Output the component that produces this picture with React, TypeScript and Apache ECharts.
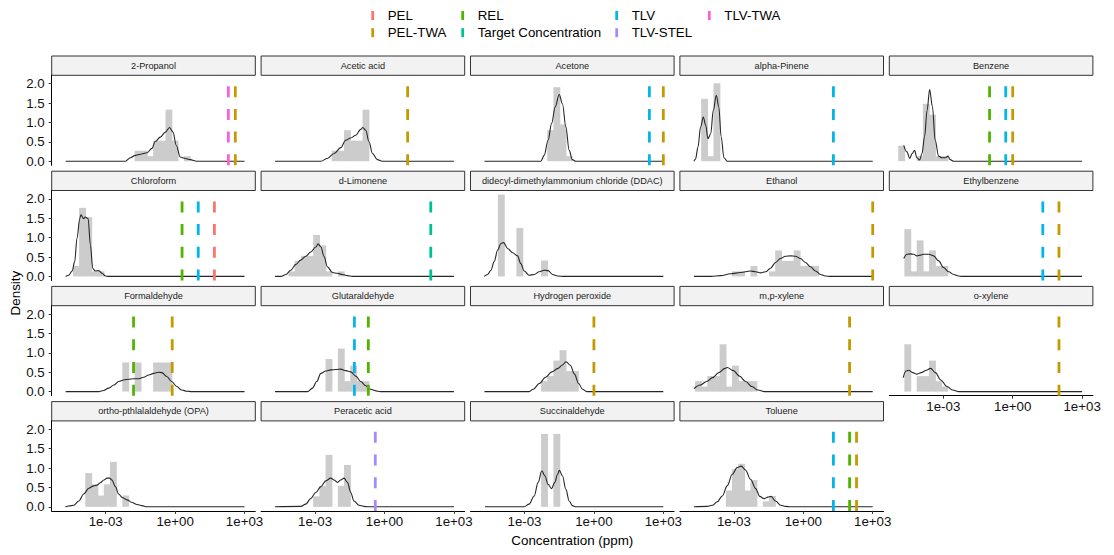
import { useEffect, useRef } from "react";
import * as echarts from "echarts";

// ---------- legend / limit types ----------
const LIMIT_TYPES = ["PEL", "PEL-TWA", "REL", "Target Concentration", "TLV", "TLV-STEL", "TLV-TWA"];
const LIMIT_COLORS = ["#F8766D", "#C49A00", "#53B400", "#00C094", "#00B6EB", "#A58AFF", "#FB61D7"];

// ---------- axes ----------
const X_TICKS = [-3, 0, 3];
const X_TICK_LABELS = ["1e-03", "1e+00", "1e+03"];
const Y_TICKS = [0, 0.5, 1, 1.5, 2];
const X_MIN = -5.333;
const X_MAX = 3.466;
const Y_MIN = -0.1055;
const Y_MAX = 2.2155;

// histogram bins on log10(concentration): left edge of bin k = BIN_START + k * BIN_WIDTH
const BIN_START = -4.933;
const BIN_WIDTH = 0.2666;

// ---------- data: histogram [bin, density], density curve [log10 ppm, density], limits [type, ppm] ----------
const propanolHist = [[12, 0.27], [13, 0.27], [14, 0.13], [15, 0.53], [16, 0.53], [17, 1.33], [18, 0.53], [20, 0.13]];
const propanolDens = [[-4.73, 0], [-2.15, 0], [-1.93, 0.09], [-1.72, 0.15], [-1.5, 0.18], [-1.21, 0.22], [-1.0, 0.33], [-0.86, 0.51], [-0.64, 0.62], [-0.42, 0.75], [-0.24, 0.87], [-0.09, 0.75], [0.05, 0.41], [0.22, 0.11], [0.44, 0.07], [0.65, 0.04], [0.94, 0], [3, 0]];
const propanolLimits = [["TLV-TWA", 200], ["PEL-TWA", 400]];

const aceticHist = [[10, 0.27], [11, 0.27], [12, 0.8], [13, 0.53], [14, 0.53], [15, 1.33]];
const aceticDens = [[-4.73, 0], [-2.75, 0], [-2.47, 0.07], [-2.18, 0.2], [-1.89, 0.35], [-1.68, 0.54], [-1.46, 0.6], [-1.24, 0.67], [-1.03, 0.82], [-0.94, 0.87], [-0.81, 0.8], [-0.67, 0.5], [-0.52, 0.2], [-0.31, 0.04], [-0.09, 0], [3, 0]];
const aceticLimits = [["PEL-TWA", 10]];

const acetoneHist = [[11, 0.8], [12, 1.91], [13, 0.95], [14, 0.13]];
const acetoneDens = [[-4.73, 0], [-2.29, 0], [-2.15, 0.15], [-1.98, 0.54], [-1.83, 0.97], [-1.67, 1.4], [-1.5, 1.72], [-1.36, 1.48], [-1.21, 0.88], [-1.07, 0.28], [-0.93, 0.04], [-0.78, 0], [3, 0]];
const acetoneLimits = [["TLV", 250], ["PEL-TWA", 1000]];

const pineneHist = [[2, 1.61], [3, 0.13], [4, 2.01]];
const pineneDens = [[-4.73, 0], [-4.66, 0.05], [-4.55, 0.37], [-4.44, 0.88], [-4.32, 1.14], [-4.22, 0.93], [-4.12, 0.58], [-4.0, 0.71], [-3.89, 1.31], [-3.76, 1.7], [-3.65, 1.39], [-3.55, 0.63], [-3.43, 0.09], [-3.29, 0], [3, 0]];
const pineneLimits = [["TLV", 20]];

const benzeneHist = [[0, 0.4], [3, 0.13], [4, 1.48], [5, 1.2], [6, 0.13], [7, 0.13]];
const benzeneDens = [[-4.71, 0.41], [-4.57, 0.24], [-4.45, 0.07], [-4.35, 0.2], [-4.24, 0.28], [-4.14, 0.09], [-4.02, 0.03], [-3.92, 0.2], [-3.81, 0.63], [-3.7, 1.31], [-3.59, 1.85], [-3.47, 1.41], [-3.35, 0.54], [-3.2, 0.13], [-3.06, 0.09], [-2.91, 0.09], [-2.8, 0.13], [-2.7, 0.04], [-2.55, 0], [3, 0]];
const benzeneLimits = [["REL", 0.1], ["TLV", 0.5], ["PEL-TWA", 1]];

const chloroformHist = [[2, 0.27], [3, 1.77], [4, 1.53], [5, 0.13], [6, 0.13]];
const chloroformDens = [[-4.73, 0], [-4.59, 0.03], [-4.45, 0.14], [-4.34, 0.38], [-4.24, 0.98], [-4.12, 1.49], [-4.07, 1.59], [-3.95, 1.49], [-3.88, 1.53], [-3.76, 1.49], [-3.66, 0.81], [-3.56, 0.21], [-3.45, 0.14], [-3.3, 0.15], [-3.16, 0.08], [-3.01, 0.01], [-2.87, 0], [3, 0]];
const chloroformLimits = [["REL", 2], ["TLV", 10], ["PEL", 50]];

const limoneneHist = [[3, 0.13], [4, 0.4], [5, 0.53], [6, 0.53], [7, 1.07], [8, 0.8], [9, 0.13], [11, 0.13]];
const limoneneDens = [[-4.73, 0], [-4.48, 0], [-4.26, 0.05], [-4.05, 0.16], [-3.83, 0.31], [-3.62, 0.42], [-3.4, 0.52], [-3.19, 0.63], [-2.97, 0.76], [-2.87, 0.84], [-2.75, 0.76], [-2.61, 0.51], [-2.47, 0.25], [-2.25, 0.1], [-2.04, 0.08], [-1.82, 0.05], [-1.6, 0.02], [-1.39, 0], [3, 0]];
const limoneneLimits = [["Target Concentration", 100]];

const ddacHist = [[3, 2.11], [6, 1.25], [10, 0.41]];
const ddacDens = [[-4.74, 0], [-4.59, 0.05], [-4.45, 0.16], [-4.31, 0.38], [-4.16, 0.68], [-4.02, 0.85], [-3.9, 0.87], [-3.73, 0.72], [-3.51, 0.61], [-3.3, 0.53], [-3.16, 0.33], [-3.01, 0.14], [-2.8, 0.03], [-2.58, 0.05], [-2.36, 0.12], [-2.15, 0.16], [-1.98, 0.15], [-1.79, 0.05], [-1.57, 0.01], [-1.29, 0], [3, 0]];
const ddacLimits: (string | number)[][] = [];

const ethanolHist = [[7, 0.13], [8, 0.13], [10, 0.27], [13, 0.13], [14, 0.67], [15, 0.4], [16, 0.4], [17, 0.67], [18, 0.27], [19, 0.27], [20, 0.27]];
const ethanolDens = [[-4.73, 0], [-4.0, 0], [-3.57, 0.02], [-3.14, 0.07], [-2.71, 0.1], [-2.28, 0.14], [-2.06, 0.12], [-1.85, 0.09], [-1.63, 0.12], [-1.42, 0.21], [-1.2, 0.36], [-0.99, 0.46], [-0.77, 0.52], [-0.55, 0.53], [-0.34, 0.52], [-0.12, 0.46], [0.09, 0.36], [0.31, 0.25], [0.53, 0.14], [0.74, 0.05], [0.96, 0.01], [1.17, 0], [3, 0]];
const ethanolLimits = [["PEL-TWA", 1000]];

const ethylbenzeneHist = [[1, 1.22], [2, 0.13], [3, 0.93], [4, 0.13], [5, 0.67], [6, 0.27], [7, 0.27]];
const ethylbenzeneDens = [[-4.71, 0.46], [-4.57, 0.57], [-4.42, 0.58], [-4.28, 0.57], [-4.14, 0.53], [-3.99, 0.55], [-3.85, 0.57], [-3.63, 0.57], [-3.42, 0.53], [-3.2, 0.4], [-2.99, 0.23], [-2.77, 0.12], [-2.55, 0.05], [-2.34, 0.01], [-2.19, 0], [3, 0]];
const ethylbenzeneLimits = [["TLV", 20], ["PEL-TWA", 100]];

const formaldehydeHist = [[10, 0.75], [12, 0.75], [15, 0.75], [16, 0.75], [17, 0.75]];
const formaldehydeDens = [[-4.73, 0], [-3.3, 0], [-3.09, 0.03], [-2.87, 0.09], [-2.65, 0.17], [-2.44, 0.26], [-2.22, 0.3], [-2.01, 0.32], [-1.79, 0.33], [-1.57, 0.33], [-1.36, 0.37], [-1.14, 0.43], [-0.93, 0.47], [-0.71, 0.5], [-0.57, 0.49], [-0.36, 0.39], [-0.15, 0.26], [0.07, 0.13], [0.29, 0.04], [0.51, 0.01], [0.72, 0], [3, 0]];
const formaldehydeLimits = [["REL", 0.016], ["PEL-TWA", 0.75]];

const glutaraldehydeHist = [[9, 0.84], [11, 1.11], [12, 0.27], [13, 0.67], [14, 0.27], [15, 0.27]];
const glutaraldehydeDens = [[-4.73, 0], [-3.33, 0], [-3.11, 0.09], [-2.93, 0.26], [-2.75, 0.47], [-2.54, 0.53], [-2.32, 0.56], [-2.11, 0.57], [-1.89, 0.58], [-1.67, 0.54], [-1.46, 0.51], [-1.24, 0.4], [-1.03, 0.26], [-0.81, 0.15], [-0.6, 0.06], [-0.38, 0.02], [-0.17, 0], [3, 0]];
const glutaraldehydeLimits = [["TLV", 0.05], ["REL", 0.2]];

const peroxideHist = [[10, 0.27], [11, 0.4], [12, 0.8], [13, 1.07], [14, 0.53], [15, 0.53]];
const peroxideDens = [[-4.73, 0], [-2.8, 0], [-2.62, 0.06], [-2.36, 0.21], [-2.09, 0.37], [-1.82, 0.51], [-1.55, 0.6], [-1.38, 0.68], [-1.2, 0.77], [-1.02, 0.68], [-0.84, 0.45], [-0.66, 0.21], [-0.49, 0.06], [-0.31, 0], [3, 0]];
const peroxideLimits = [["PEL-TWA", 1]];

const mpXyleneHist = [[1, 0.27], [2, 0.13], [3, 0.4], [4, 0.4], [5, 1.22], [6, 0.13], [7, 0.67], [8, 0.27], [9, 0.27], [10, 0.27]];
const mpXyleneDens = [[-4.72, 0.08], [-4.45, 0.17], [-4.18, 0.26], [-3.92, 0.36], [-3.65, 0.49], [-3.38, 0.6], [-3.29, 0.62], [-3.02, 0.54], [-2.76, 0.4], [-2.49, 0.26], [-2.22, 0.13], [-1.96, 0.04], [-1.69, 0], [3, 0]];
const mpXyleneLimits = [["PEL-TWA", 100]];

const oXyleneHist = [[1, 1.22], [3, 0.4], [4, 0.4], [5, 0.8], [6, 0.27], [7, 0.13]];
const oXyleneDens = [[-4.73, 0.36], [-4.62, 0.53], [-4.5, 0.55], [-4.32, 0.49], [-4.14, 0.45], [-3.96, 0.49], [-3.73, 0.55], [-3.55, 0.6], [-3.34, 0.49], [-3.11, 0.3], [-2.84, 0.13], [-2.59, 0.04], [-2.36, 0], [3, 0]];
const oXyleneLimits = [["PEL-TWA", 100]];

const opaHist = [[4, 0.87], [5, 0.58], [6, 0.29], [7, 0.58], [8, 1.16], [10, 0.29]];
const opaDens = [[-4.74, 0], [-4.59, 0.02], [-4.38, 0.04], [-4.16, 0.15], [-3.95, 0.33], [-3.73, 0.48], [-3.52, 0.54], [-3.37, 0.56], [-3.23, 0.62], [-3.08, 0.69], [-2.94, 0.74], [-2.83, 0.74], [-2.73, 0.69], [-2.58, 0.52], [-2.44, 0.33], [-2.29, 0.24], [-2.08, 0.18], [-1.86, 0.11], [-1.65, 0.06], [-1.43, 0.03], [-1.22, 0], [3, 0]];
const opaLimits: (string | number)[][] = [];

const peraceticHist = [[7, 0.27], [8, 0.54], [9, 1.34], [11, 0.54], [12, 1.08]];
const peraceticDens = [[-4.73, 0], [-3.62, 0.01], [-3.4, 0.07], [-3.19, 0.21], [-2.97, 0.37], [-2.75, 0.52], [-2.54, 0.67], [-2.32, 0.74], [-2.18, 0.69], [-2.03, 0.63], [-1.89, 0.69], [-1.75, 0.74], [-1.6, 0.63], [-1.46, 0.37], [-1.32, 0.15], [-1.1, 0.04], [-0.88, 0.01], [-0.74, 0], [3, 0]];
const peraceticLimits = [["TLV-STEL", 0.4]];

const succinHist = [[10, 1.88], [12, 1.88]];
const succinDens = [[-4.71, 0], [-3.01, 0], [-2.8, 0.07], [-2.58, 0.28], [-2.41, 0.63], [-2.25, 0.93], [-2.12, 0.8], [-1.98, 0.58], [-1.83, 0.47], [-1.69, 0.63], [-1.57, 0.84], [-1.49, 0.94], [-1.36, 0.8], [-1.21, 0.45], [-1.07, 0.15], [-0.93, 0.03], [-0.78, 0], [3, 0]];
const succinLimits: (string | number)[][] = [];

const tolueneHist = [[6, 0.42], [7, 0.97], [8, 1.11], [9, 0.42], [10, 0.69], [12, 0.14], [13, 0.28]];
const tolueneDens = [[-4.73, 0], [-4.15, 0.01], [-3.93, 0.04], [-3.72, 0.13], [-3.5, 0.28], [-3.29, 0.54], [-3.07, 0.84], [-2.86, 1.01], [-2.68, 1.05], [-2.5, 0.95], [-2.28, 0.71], [-2.06, 0.47], [-1.88, 0.27], [-1.7, 0.21], [-1.53, 0.25], [-1.39, 0.27], [-1.2, 0.15], [-0.98, 0.04], [-0.77, 0.01], [-0.55, 0], [3, 0]];
const tolueneLimits = [["TLV", 20], ["REL", 100], ["PEL-TWA", 200]];

const PANEL_NAMES = [
  "2-Propanol", "Acetic acid", "Acetone", "alpha-Pinene", "Benzene",
  "Chloroform", "d-Limonene", "didecyl-dimethylammonium chloride (DDAC)", "Ethanol", "Ethylbenzene",
  "Formaldehyde", "Glutaraldehyde", "Hydrogen peroxide", "m,p-xylene", "o-xylene",
  "ortho-pthlalaldehyde (OPA)", "Peracetic acid", "Succinaldehyde", "Toluene",
];
const PANEL_HISTS = [propanolHist, aceticHist, acetoneHist, pineneHist, benzeneHist, chloroformHist, limoneneHist, ddacHist, ethanolHist, ethylbenzeneHist, formaldehydeHist, glutaraldehydeHist, peroxideHist, mpXyleneHist, oXyleneHist, opaHist, peraceticHist, succinHist, tolueneHist];
const PANEL_DENS = [propanolDens, aceticDens, acetoneDens, pineneDens, benzeneDens, chloroformDens, limoneneDens, ddacDens, ethanolDens, ethylbenzeneDens, formaldehydeDens, glutaraldehydeDens, peroxideDens, mpXyleneDens, oXyleneDens, opaDens, peraceticDens, succinDens, tolueneDens];
const PANEL_LIMITS = [propanolLimits, aceticLimits, acetoneLimits, pineneLimits, benzeneLimits, chloroformLimits, limoneneLimits, ddacLimits, ethanolLimits, ethylbenzeneLimits, formaldehydeLimits, glutaraldehydeLimits, peroxideLimits, mpXyleneLimits, oXyleneLimits, opaLimits, peraceticLimits, succinLimits, tolueneLimits];

// ---------- layout ----------
const FONT = "'Liberation Sans', Arial, sans-serif";
const N_COLS = 5;
const PANEL_LEFT0 = 51.7;
const COL_PITCH = 209.4;
const PANEL_W = 203.6;
const PANEL_TOP0 = 75.3;
const ROW_PITCH = 115.2;
const PANEL_H = 90;
const STRIP_H = 19.3;
const LEGEND_COL_X = [372.7, 462.7, 616.7, 709.3];
const LEGEND_ROW_Y = [15.5, 32.7];

function buildOption() {
  const grids: any[] = [];
  const xAxes: any[] = [];
  const yAxes: any[] = [];
  const series: any[] = [];
  const graphics: any[] = [];
  const n = PANEL_NAMES.length;
  const nRows = Math.ceil(n / N_COLS);

  for (let i = 0; i < n; i++) {
    const r = Math.floor(i / N_COLS);
    const c = i % N_COLS;
    const left = PANEL_LEFT0 + c * COL_PITCH;
    const top = PANEL_TOP0 + r * ROW_PITCH;
    const isBottom = i + N_COLS >= n;
    const isLeft = c === 0;

    grids.push({ left, top, width: PANEL_W, height: PANEL_H, containLabel: false });

    xAxes.push({
      gridIndex: i,
      type: "value",
      min: X_MIN,
      max: X_MAX,
      splitLine: { show: false },
      axisLine: { show: isBottom, onZero: false, lineStyle: { color: "#000", width: 1 } },
      axisTick: { show: isBottom, customValues: X_TICKS, length: 3, lineStyle: { color: "#333", width: 1 } },
      axisLabel: {
        show: isBottom,
        customValues: X_TICKS,
        margin: 4,
        fontSize: 13.3,
        color: "#111",
        fontFamily: FONT,
        formatter: (v: number) => X_TICK_LABELS[X_TICKS.indexOf(Math.round(v))] ?? "",
      },
    });

    yAxes.push({
      gridIndex: i,
      type: "value",
      min: Y_MIN,
      max: Y_MAX,
      splitLine: { show: false },
      axisLine: { show: isLeft, onZero: false, lineStyle: { color: "#000", width: 1 } },
      axisTick: { show: isLeft, customValues: Y_TICKS, length: 3, lineStyle: { color: "#333", width: 1 } },
      axisLabel: {
        show: isLeft,
        customValues: Y_TICKS,
        margin: 7,
        fontSize: 13.3,
        color: "#111",
        fontFamily: FONT,
        formatter: (v: number) => v.toFixed(1),
      },
    });

    // histogram (bars overlap by a fraction of a pixel to avoid anti-aliasing seams)
    series.push({
      type: "custom",
      xAxisIndex: i,
      yAxisIndex: i,
      silent: true,
      z: 1,
      data: PANEL_HISTS[i].map(([k, h]) => [BIN_START + k * BIN_WIDTH, BIN_START + (k + 1) * BIN_WIDTH, h]),
      renderItem: (_p: any, api: any) => {
        const p0 = api.coord([api.value(0), api.value(2)]);
        const p1 = api.coord([api.value(1), 0]);
        return {
          type: "rect",
          shape: { x: p0[0] - 0.35, y: p0[1], width: p1[0] - p0[0] + 0.7, height: p1[1] - p0[1] },
          style: { fill: "#CCCCCC" },
        };
      },
    });

    // density curve
    series.push({
      type: "line",
      xAxisIndex: i,
      yAxisIndex: i,
      silent: true,
      z: 3,
      data: PANEL_DENS[i],
      showSymbol: false,
      smooth: 0.35,
      smoothMonotone: "x",
      lineStyle: { color: "#262626", width: 1.1 },
    });

    // exposure-limit lines
    PANEL_LIMITS[i].forEach(([type, ppm]) => {
      const lx = Math.log10(ppm as number);
      const color = LIMIT_COLORS[LIMIT_TYPES.indexOf(type as string)];
      series.push({
        type: "line",
        xAxisIndex: i,
        yAxisIndex: i,
        silent: true,
        z: 4,
        data: [[lx, Y_MIN], [lx, Y_MAX]],
        showSymbol: false,
        lineStyle: { color, width: 2.8, type: [11, 11.7] },
      });
    });

    // strip
    graphics.push({
      type: "rect",
      shape: { x: left, y: top - STRIP_H, width: PANEL_W, height: STRIP_H },
      style: { fill: "#F2F2F2", stroke: "#333333", lineWidth: 1 },
      silent: true,
    });
    graphics.push({
      type: "text",
      x: left + PANEL_W / 2,
      y: top - STRIP_H / 2,
      style: {
        text: PANEL_NAMES[i],
        fill: "#1A1A1A",
        fontSize: 9.2,
        fontFamily: FONT,
        align: "center",
        verticalAlign: "middle",
      },
      silent: true,
    });
  }

  // legend
  LIMIT_TYPES.forEach((t, j) => {
    const lc = Math.floor(j / 2);
    const lr = j % 2;
    const x = LEGEND_COL_X[lc];
    const y = LEGEND_ROW_Y[lr];
    graphics.push({
      type: "line",
      shape: { x1: x, y1: y - 4.5, x2: x, y2: y + 4.5 },
      style: { stroke: LIMIT_COLORS[j], lineWidth: 2.8 },
      silent: true,
    });
    graphics.push({
      type: "text",
      x: x + 15,
      y,
      style: { text: t, fill: "#000", fontSize: 13.3, fontFamily: FONT, align: "left", verticalAlign: "middle" },
      silent: true,
    });
  });

  // axis titles
  const panelsBottom = PANEL_TOP0 + (nRows - 1) * ROW_PITCH + PANEL_H;
  graphics.push({
    type: "text",
    x: (PANEL_LEFT0 + PANEL_LEFT0 + (N_COLS - 1) * COL_PITCH + PANEL_W) / 2,
    y: 540,
    style: { text: "Concentration (ppm)", fill: "#000", fontSize: 13.4, fontFamily: FONT, align: "center", verticalAlign: "middle" },
    silent: true,
  });
  graphics.push({
    type: "text",
    x: 15,
    y: (PANEL_TOP0 + panelsBottom) / 2,
    rotation: Math.PI / 2,
    style: { text: "Density", fill: "#000", fontSize: 13.4, fontFamily: FONT, align: "center", verticalAlign: "middle" },
    silent: true,
  });

  return {
    animation: false,
    backgroundColor: "#FFFFFF",
    textStyle: { fontFamily: FONT },
    grid: grids,
    xAxis: xAxes,
    yAxis: yAxes,
    series,
    graphic: { elements: graphics },
  };
}

export default function App() {
  const ref = useRef<HTMLDivElement>(null);
  useEffect(() => {
    if (!ref.current) return;
    const chart = echarts.init(ref.current, null, { renderer: "svg" });
    chart.setOption(buildOption() as any);
    return () => chart.dispose();
  }, []);
  return (
    <div
      ref={ref}
      style={{ position: "absolute", left: 0, top: 0, width: 1114, height: 555, background: "#fff" }}
    />
  );
}
